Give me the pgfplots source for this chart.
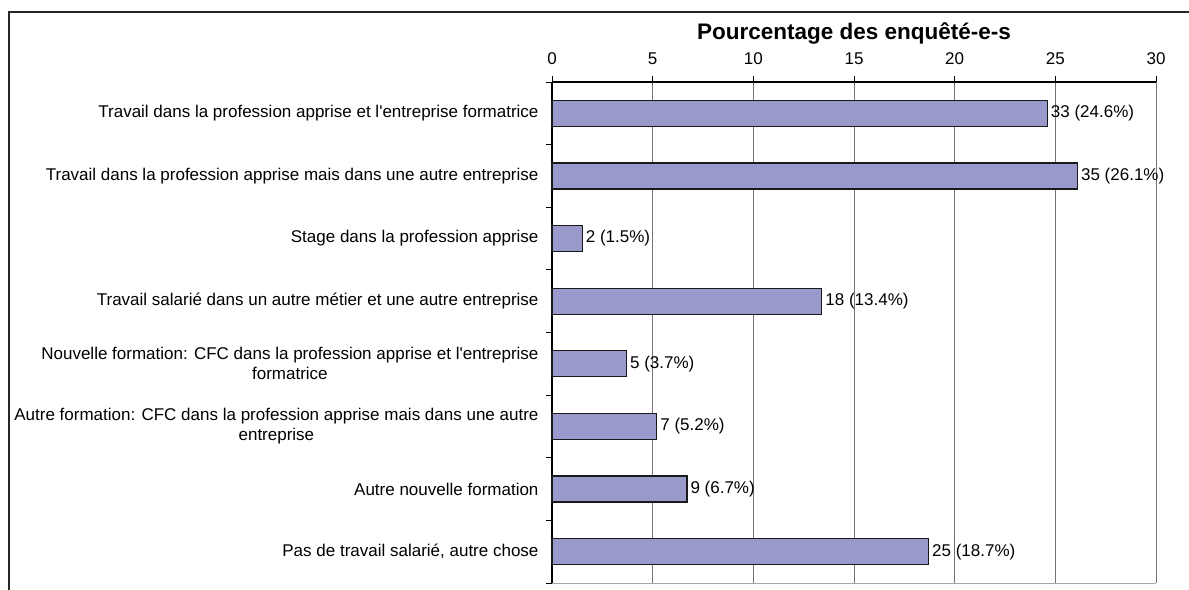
\documentclass[border=0pt]{standalone}
\usepackage{fontspec}
\setmainfont{Liberation Sans}
\usepackage{pgfplots}
\pgfplotsset{compat=1.18}
\definecolor{barfill}{RGB}{153,153,204}
\newcommand\lbl{\fontsize{17bp}{20bp}\selectfont}

\begin{document}
\begin{tikzpicture}
\useasboundingbox (0,0) rectangle (1189bp,590bp);
% outer frame (only top and left are visible)
\draw[black!85, line width=1.5bp] (9bp,0) -- (9bp,578bp) -- (1189bp,578bp);
\begin{axis}[
  at={(552bp,7bp)}, anchor=south west,
  width=604bp, height=501bp, scale only axis,
  xbar, bar width=26bp,
  xmin=0, xmax=30, ymin=-0.5, ymax=7.5,
  axis x line*=top, axis y line*=left,
  axis line style={black, line width=1.2bp},
  xtick={0,5,...,30},
  tick align=outside, major tick length=6bp, minor tick length=6bp,
  xtick style={black, line width=0.8bp},
  /pgf/number format/assume math mode=true,
  xticklabel style={font=\lbl, yshift=8bp},
  xmajorgrids, grid style={black!55, line width=0.8bp},
  ytick={0,...,7},
  ytick style={draw=none},
  minor ytick={-0.5,0.5,...,7.5},
  minor y tick style={draw=black, line width=0.8bp},
  yticklabel style={font=\lbl, align=center, xshift=-4bp},
  yticklabels={
    {Pas de travail salarié, autre chose},
    {Autre nouvelle formation},
    {Autre formation: CFC dans la profession apprise mais dans une autre\\entreprise},
    {Nouvelle formation: CFC dans la profession apprise et l\textquotesingle entreprise\\formatrice},
    {Travail salarié dans un autre métier et une autre entreprise},
    {Stage dans la profession apprise},
    {Travail dans la profession apprise mais dans une autre entreprise},
    {Travail dans la profession apprise et l\textquotesingle entreprise formatrice}},
  title={Pourcentage des enquêté-e-s},
  title style={font=\fontsize{22.5bp}{26bp}\selectfont\bfseries,
    at={(0.5,1)}, anchor=base, yshift=37bp},
  point meta=explicit symbolic,
  nodes near coords,
  nodes near coords style={font=\lbl, anchor=west, inner sep=3bp, text=black},
  clip=false,
]
\addplot[fill=barfill, draw=black!90, line width=1.3bp] coordinates {
  (18.7,0) [25 (18.7\%)]
  (6.7,1)  [9 (6.7\%)]
  (5.2,2)  [7 (5.2\%)]
  (3.7,3)  [5 (3.7\%)]
  (13.4,4) [18 (13.4\%)]
  (1.5,5)  [2 (1.5\%)]
  (26.1,6) [35 (26.1\%)]
  (24.6,7) [33 (24.6\%)]
};
\draw[black!35, line width=0.8bp] (axis cs:0,-0.5) -- (axis cs:30,-0.5);
\end{axis}
\end{tikzpicture}
\end{document}
